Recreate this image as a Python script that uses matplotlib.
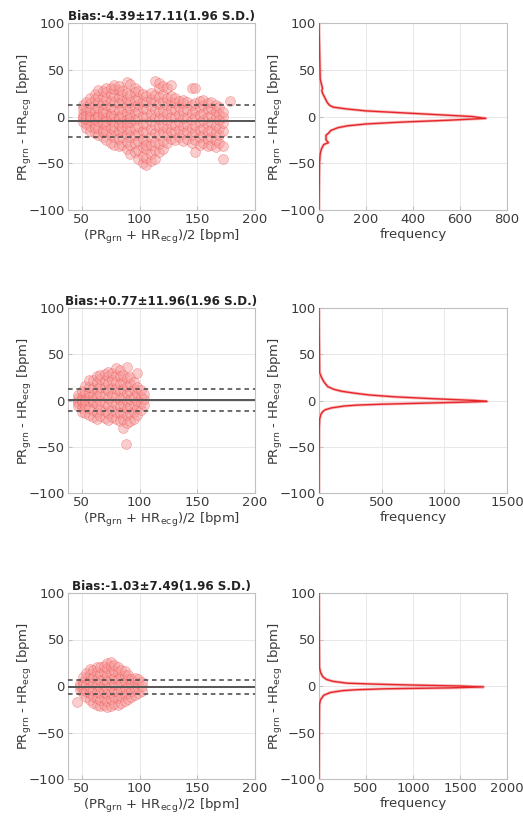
import matplotlib
matplotlib.use("Agg")
import matplotlib.pyplot as plt
import numpy as np

plt.rcParams['font.family'] = ['DejaVu Sans']

# ---------------- data ----------------
titles = ["Bias:-4.39\u00b117.11(1.96 S.D.)",
          "Bias:+0.77\u00b111.96(1.96 S.D.)",
          "Bias:-1.03\u00b17.49(1.96 S.D.)"]
bias = [-4.39, 0.77, -1.03]
sd196 = [17.11, 11.96, 7.49]

# Bland-Altman clouds: column x -> y values
cols1 = {
    51: [-2, 3, 8, -6, 12, 0], 54: [-8, 5, -3, 10, 15, 1, -12],
    57: [-10, 2, 7, -4, 14, 20, -15, 0], 61: [-18, -8, 0, 6, 12, 19, 24, -3, -12],
    64: [-20, -12, -5, 2, 9, 16, 22, 28, -1], 68: [-22, -14, -7, 0, 7, 14, 21, 27, 4, -17],
    71: [-25, -16, -9, -2, 5, 12, 19, 26, 31, -5], 75: [-28, -20, -12, -4, 3, 10, 17, 24, 30, 1],
    78: [-30, -22, -14, -6, 1, 8, 15, 22, 29, 34, -10], 82: [-32, -24, -16, -8, 0, 7, 14, 21, 28, 33, -3],
    85: [-30, -22, -14, -6, 2, 9, 16, 23, 27, -11], 89: [-35, -27, -19, -11, -3, 5, 12, 19, 25, 37, -7],
    92: [-40, -30, -22, -14, -6, 2, 9, 16, 23, 35, -2], 96: [-38, -28, -20, -12, -4, 4, 11, 18, 26, 30],
    99: [-45, -36, -26, -18, -10, -2, 6, 13, 20, 27], 103: [-50, -42, -33, -24, -15, -7, 1, 9, 17, 24],
    106: [-52, -44, -35, -26, -17, -8, 0, 8, 16, 22, -30], 110: [-48, -40, -31, -22, -13, -5, 3, 11, 19, 25],
    113: [-45, -36, -27, -18, -9, -1, 7, 15, 23, 38], 117: [-38, -29, -20, -11, -3, 5, 13, 21, 30, 36],
    120: [-35, -26, -17, -9, -1, 7, 15, 24, 33], 124: [-28, -20, -12, -4, 4, 12, 20, 30],
    127: [-24, -16, -8, 0, 8, 15, 22, 34], 131: [-25, -17, -9, -1, 7, 14, 20],
    134: [-22, -14, -6, 2, 10, 17], 138: [-26, -18, -10, -2, 6, 14, 18],
    141: [-24, -16, -8, 0, 8, 15], 145: [-28, -20, -12, -4, 4, 12, 30],
    148: [-38, -25, -17, -9, -1, 7, 14, 30], 152: [-30, -22, -14, -6, 2, 10, 17],
    155: [-28, -20, -12, -4, 4, 12, 18], 159: [-32, -24, -16, -8, 0, 8, 14],
    162: [-30, -22, -14, -6, 2, 9, 15], 166: [-33, -25, -17, -9, -1, 6, 12],
    169: [-28, -20, -12, -4, 3, 10], 172: [-45, -32, -15, -7, -1, 5], 178: [17],
}
cols2 = {
    47: [-3, 0, 3, -6, 6], 50: [-8, -2, 4, 10, -12, 1], 53: [-14, -6, 2, 9, 16, -1],
    56: [-16, -8, 0, 8, 15, 22, 4], 60: [-18, -10, -2, 6, 14, 22, 1],
    63: [-20, -12, -4, 4, 12, 20, 26], 66: [-17, -9, -1, 7, 15, 23, 28],
    70: [-19, -11, -3, 5, 13, 21, 29], 73: [-21, -13, -5, 3, 11, 19, 27, 31],
    76: [-18, -10, -2, 6, 14, 22, 30], 80: [-20, -12, -4, 4, 12, 20, 28, 35],
    83: [-22, -14, -6, 2, 10, 18, 26, 33], 86: [-30, -20, -12, -4, 4, 12, 20, 28],
    88: [-47], 89: [-24, -16, -8, 0, 8, 16, 24, 36], 92: [-22, -14, -6, 2, 10, 18, 25],
    95: [-20, -12, -4, 4, 12, 20], 98: [-16, -8, 0, 8, 15, 30], 101: [-10, -3, 4, 11],
    104: [-5, 2, 7],
}
cols3 = {
    46: [-17], 48: [-4, 0, 2], 51: [-8, -2, 4, 10, 1], 54: [-12, -5, 2, 9, 14],
    57: [-15, -8, -1, 6, 13, 18], 60: [-18, -11, -4, 3, 10, 17],
    63: [-20, -13, -6, 1, 8, 15, 20], 66: [-22, -15, -8, -1, 6, 13, 20],
    69: [-20, -13, -6, 1, 8, 15, 22], 72: [-23, -16, -9, -2, 5, 12, 19, 25],
    75: [-21, -14, -7, 0, 7, 14, 21, 26], 78: [-19, -12, -5, 2, 9, 16, 23],
    81: [-20, -13, -6, 1, 8, 15, 20], 84: [-18, -11, -4, 3, 10, 17],
    87: [-16, -9, -2, 5, 12, 16], 90: [-14, -7, 0, 7, 12], 93: [-12, -5, 2, 8],
    96: [-10, -3, 4, 9], 99: [-8, -2, 3, 8], 102: [-5, 0, 4],
}

# histogram curves (difference value -> frequency)
hist_y1 = [100, 40, 35, 30, 28, 25, 20, 15, 12, 10, 8, 6, 4, 2, 0, -2, -4, -6, -8, -10, -12, -15, -18, -20, -25, -28, -30, -35, -40, -50, -100]
hist_f1 = [0, 5, 10, 15, 12, 15, 25, 35, 45, 60, 120, 200, 350, 500, 650, 710, 550, 350, 200, 120, 80, 50, 40, 30, 30, 40, 20, 10, 5, 2, 0]
hist_y2 = [100, 30, 25, 20, 15, 12, 10, 8, 6, 4, 2, 0, -1, -2, -3, -4, -5, -6, -8, -10, -12, -15, -20, -30, -100]
hist_f2 = [0, 5, 20, 40, 70, 120, 180, 280, 400, 600, 900, 1250, 1340, 1100, 800, 500, 300, 200, 100, 50, 30, 15, 5, 2, 0]
hist_y3 = [100, 20, 15, 10, 7, 5, 3, 2, 1, 0, -1, -2, -3, -4, -5, -7, -10, -15, -20, -100]
hist_f3 = [0, 5, 15, 40, 80, 150, 300, 600, 1000, 1500, 1750, 1400, 700, 400, 250, 120, 50, 15, 5, 0]
hist_xmax = [800, 1500, 2000]
hist_xticks = [[0, 200, 400, 600, 800], [0, 500, 1000, 1500], [0, 500, 1000, 1500, 2000]]

# ---------------- figure ----------------
fig = plt.figure(figsize=(5.23, 8.16), dpi=100)
W, H = 523, 816
rows = [(23, 210), (308, 493), (593, 779)]
left_col = (68, 255)
right_col = (319, 507)

ylab = r'PR$_{\rm grn}$ - HR$_{\rm ecg}$ [bpm]'
xlab = r'(PR$_{\rm grn}$ + HR$_{\rm ecg}$)/2 [bpm]'
txtc = '#3a3a3a'
fs = 9.5

def style(ax):
    ax.grid(True, color='#e8e8e8', lw=0.7)
    ax.set_axisbelow(True)
    for s in ax.spines.values():
        s.set_color('#c0c0c0')
        s.set_linewidth(0.8)
    ax.tick_params(direction='in', length=3, colors='#c0c0c0', labelcolor=txtc, labelsize=fs, pad=2.5)

def axrect(col, row):
    x0, x1 = col
    t, b = row
    return [x0 / W, 1 - b / H, (x1 - x0) / W, (b - t) / H]

all_cols = [cols1, cols2, cols3]
hists = [(hist_y1, hist_f1), (hist_y2, hist_f2), (hist_y3, hist_f3)]

for i in range(3):
    ax = fig.add_axes(axrect(left_col, rows[i]))
    style(ax)
    xs = [x for x, ys in all_cols[i].items() for _ in ys]
    yv = [y for x, ys in all_cols[i].items() for y in ys]
    ax.scatter(xs, yv, s=50, facecolor=(0.97, 0.62, 0.62, 0.5),
               edgecolor=(0.93, 0.3, 0.3, 0.45), linewidth=0.5, zorder=2)
    ax.axhline(bias[i], color='#555555', lw=1.4, zorder=3)
    ax.axhline(bias[i] + sd196[i], color='#444444', lw=1.1, ls=(0, (3, 2.5)), zorder=3)
    ax.axhline(bias[i] - sd196[i], color='#444444', lw=1.1, ls=(0, (3, 2.5)), zorder=3)
    ax.set_xlim(38, 200)
    ax.set_ylim(-100, 100)
    ax.set_xticks([50, 100, 150, 200])
    ax.set_yticks([-100, -50, 0, 50, 100])
    ax.set_title(titles[i], fontsize=8.6, fontweight='bold', color='#222222', pad=2)
    ax.set_ylabel(ylab, fontsize=fs, color=txtc)
    ax.yaxis.set_label_coords(-0.18, 0.5)
    ax.set_xlabel(xlab, fontsize=fs, color=txtc, labelpad=1)

    ax2 = fig.add_axes(axrect(right_col, rows[i]))
    style(ax2)
    hy, hf = hists[i]
    ax2.plot(hf, hy, color='#f49090', lw=2.2, alpha=0.6, zorder=2)
    ax2.plot(hf, hy, color='#e5262a', lw=1.0, zorder=3)
    ax2.set_xlim(0, hist_xmax[i])
    ax2.set_ylim(-100, 100)
    ax2.set_xticks(hist_xticks[i])
    ax2.set_yticks([-100, -50, 0, 50, 100])
    ax2.set_ylabel(ylab, fontsize=fs, color=txtc)
    ax2.yaxis.set_label_coords(-0.18, 0.5)
    ax2.set_xlabel('frequency', fontsize=fs, color=txtc, labelpad=1)

fig.savefig('out.png', dpi=100)
